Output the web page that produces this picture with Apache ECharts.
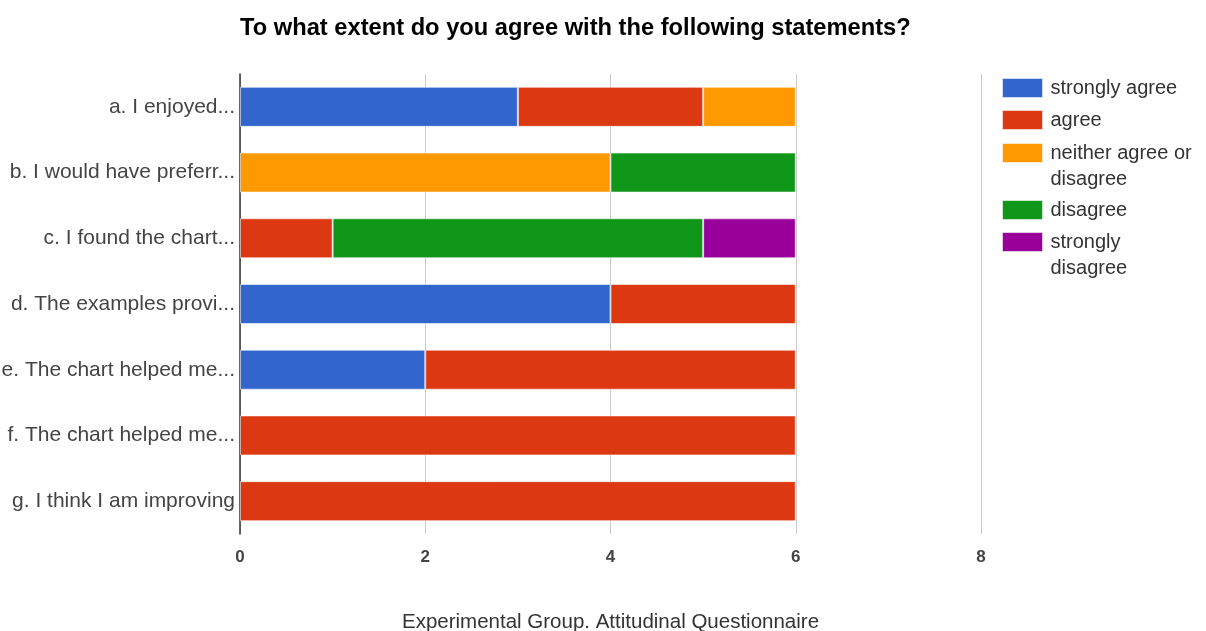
<!DOCTYPE html>
<html>
<head>
<meta charset="utf-8">
<script src="https://cdn.jsdelivr.net/npm/echarts@6/dist/echarts.min.js"></script>
<style>
html,body{margin:0;padding:0;background:#fff;}
#chart{width:1206px;height:631px;}
</style>
</head>
<body>
<div id="chart"></div>
<script>
var categories = ['a. I enjoyed...', 'b. I would have preferr...', 'c. I found the chart...', 'd. The examples provi...', 'e. The chart helped me...', 'f. The chart helped me...', 'g. I think I am improving'];
var seriesNames = ['strongly agree', 'agree', 'neither agree or disagree', 'disagree', 'strongly disagree'];
var legendLabels = ['strongly agree', 'agree', 'neither agree or\ndisagree', 'disagree', 'strongly\ndisagree'];
var stronglyAgree = [3, 0, 0, 4, 2, 0, 0];
var agree = [2, 0, 1, 2, 4, 6, 6];
var neither = [1, 4, 0, 0, 0, 0, 0];
var disagree = [0, 2, 4, 0, 0, 0, 0];
var stronglyDisagree = [0, 0, 1, 0, 0, 0, 0];
var xTicks = [0, 2, 4, 6, 8];

var colors = ['#3366cc', '#dc3912', '#ff9900', '#109618', '#990099'];
var values = [stronglyAgree, agree, neither, disagree, stronglyDisagree];
var legendTops = [74, 106, 113, 196, 202];

var chart = echarts.init(document.getElementById('chart'), null, {renderer: 'canvas'});
var series = seriesNames.map(function (n, i) {
  return {
    name: n,
    type: 'bar',
    stack: 'total',
    barWidth: 40,
    data: values[i].map(function (v) { return v === 0 ? '-' : v; }),
    itemStyle: {color: colors[i], borderColor: 'rgba(255,255,255,0.55)', borderWidth: 1},
    emphasis: {disabled: true}
  };
});

var legends = seriesNames.map(function (n, i) {
  return {
    orient: 'vertical',
    left: 1002,
    top: legendTops[i],
    padding: 0,
    icon: 'rect',
    itemWidth: 40,
    itemHeight: 19,
    data: [n],
    itemStyle: {borderColor: 'rgba(255,255,255,0.55)', borderWidth: 1},
    formatter: function (name) {
      var t = legendLabels[seriesNames.indexOf(name)];
      // leading blank line keeps the icon aligned with the first text line
      return t.indexOf('\n') >= 0 ? '\n' + t : t;
    },
    textStyle: {fontFamily: '"Liberation Sans", Arial, sans-serif', fontSize: 20, lineHeight: 26, color: '#333', padding: [2, 0, 0, 3]}
  };
});

chart.setOption({
  animation: false,
  color: colors,
  title: {
    text: 'To what extent do you agree with the following statements?',
    left: 235,
    top: 11,
    textStyle: {fontFamily: '"Liberation Sans", Arial, sans-serif', fontSize: 23.7, fontWeight: 'bold', color: '#000'}
  },
  legend: legends,
  grid: {left: 240, right: 225, top: 74, bottom: 97, containLabel: false, outerBoundsMode: 'none'},
  xAxis: {
    type: 'value',
    min: xTicks[0],
    max: xTicks[xTicks.length - 1],
    interval: 2,
    name: 'Experimental Group. Attitudinal Questionnaire',
    nameLocation: 'middle',
    nameGap: 78,
    nameTextStyle: {fontFamily: '"Liberation Sans", Arial, sans-serif', fontSize: 20.5, color: '#333'},
    axisLine: {show: false},
    axisTick: {show: false},
    axisLabel: {margin: 15, fontFamily: '"Liberation Sans", Arial, sans-serif', fontSize: 17, fontWeight: 'bold', color: '#444'},
    splitLine: {show: true, lineStyle: {color: '#cccccc', width: 1}}
  },
  yAxis: {
    type: 'category',
    inverse: true,
    data: categories,
    axisLine: {show: true, onZero: false, lineStyle: {color: '#333', width: 1.5}},
    axisTick: {show: false},
    axisLabel: {margin: 5, fontFamily: '"Liberation Sans", Arial, sans-serif', fontSize: 21, color: '#444'},
    splitLine: {show: false}
  },
  series: series
});
</script>
</body>
</html>
